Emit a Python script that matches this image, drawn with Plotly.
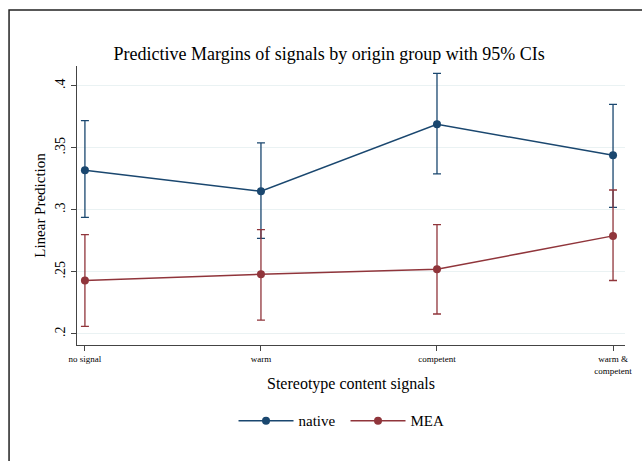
import plotly.graph_objects as go

categories = ["no signal", "warm", "competent", "warm &<br>competent"]
native_mean = [0.332, 0.315, 0.369, 0.344]
native_lo = [0.294, 0.277, 0.329, 0.302]
native_hi = [0.372, 0.354, 0.410, 0.385]
mea_mean = [0.243, 0.248, 0.252, 0.279]
mea_lo = [0.206, 0.211, 0.216, 0.243]
mea_hi = [0.280, 0.284, 0.288, 0.316]
ytick_vals = [0.2, 0.25, 0.3, 0.35, 0.4]
ytick_text = [".2", ".25", ".3", ".35", ".4"]

NAVY = "#1a476f"
MAROON = "#90353b"
FONT = "Liberation Serif"

xpos = list(range(len(categories)))
fig = go.Figure()
for name, m, lo, hi, col in [("native", native_mean, native_lo, native_hi, NAVY),
                             ("MEA", mea_mean, mea_lo, mea_hi, MAROON)]:
    fig.add_trace(go.Scatter(
        x=xpos, y=m, name=name, mode="lines+markers",
        line=dict(color=col, width=1.5),
        marker=dict(color=col, size=8),
        error_y=dict(type="data", symmetric=False,
                     array=[h - v for h, v in zip(hi, m)],
                     arrayminus=[v - l for v, l in zip(m, lo)],
                     color=col, thickness=1.3, width=4),
    ))

fig.update_layout(
    width=642, height=461,
    margin=dict(l=77, r=17, t=66, b=116),
    paper_bgcolor="white", plot_bgcolor="white",
    font=dict(family=FONT, color="black"),
    title=dict(text="Predictive Margins of signals by origin group with 95% CIs",
               font=dict(size=18, family=FONT), x=0.46, xref="paper", xanchor="center",
               y=1.0 - 54/461, yref="container", yanchor="middle"),
    showlegend=True,
    legend=dict(orientation="h", x=0.49, xanchor="center", y=-0.272, yanchor="middle",
                font=dict(size=15, family=FONT), itemwidth=55,
                entrywidth=42, entrywidthmode="pixels",
                traceorder="normal"),
    shapes=[dict(type="rect", xref="paper", yref="paper",
                 x0=-0.124, x1=3, y0=-3, y1=1.2007,
                 line=dict(color="#222222", width=1.5), layer="below")],
)
fig.update_xaxes(
    automargin=False,
    range=[-0.045, 3.068], tickvals=xpos, ticktext=categories,
    tickfont=dict(size=9, family=FONT), ticks="outside", ticklen=5,
    tickcolor="#444444", showline=True, linecolor="#444444", linewidth=1.2,
    showgrid=False, zeroline=False,
    title=dict(text="Stereotype content signals", font=dict(size=16, family=FONT), standoff=3),
)
fig.update_yaxes(
    automargin=False,
    range=[0.191, 0.416], tickvals=ytick_vals, ticktext=ytick_text,
    tickangle=-90, tickfont=dict(size=14, family=FONT), ticks="outside", ticklen=5,
    tickcolor="#444444", showline=True, linecolor="#444444", linewidth=1.2,
    showgrid=True, gridcolor="#eaf2f3", gridwidth=1.2, zeroline=False,
    title=dict(text="Linear Prediction", font=dict(size=15, family=FONT), standoff=4),
)
fig.write_html("out.html", config={"displayModeBar": False},
               post_script="document.body.style.margin='0';document.body.style.overflow='hidden';")
